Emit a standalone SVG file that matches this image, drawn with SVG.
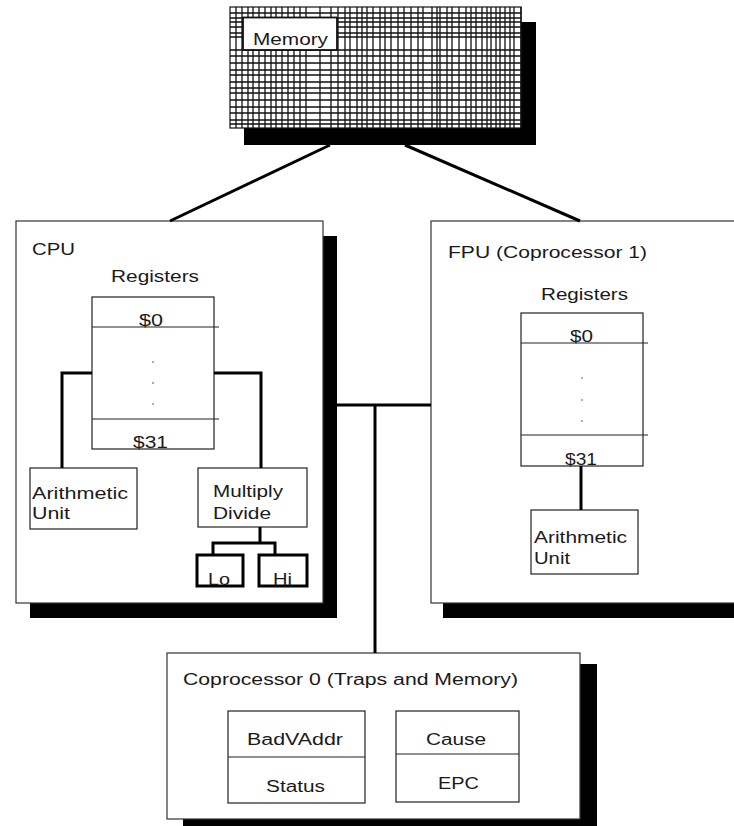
<svg xmlns="http://www.w3.org/2000/svg" width="734" height="826" viewBox="0 0 734 826">
<style>
  text { font-family: "Liberation Sans", Arial, sans-serif; font-size: 16px; fill: #1a1a1a; }
  .box { fill: #fff; stroke: #333; stroke-width: 1.2; }
  .shadow { fill: #000; }
  .thin { stroke: #222; stroke-width: 1.2; fill: none; }
  .conn { stroke: #000; stroke-width: 3; fill: none; }
  .thick { fill: #fff; stroke: #000; stroke-width: 3; }
  .grid { stroke: #111; stroke-width: 1.3; fill: none; }
  .dot { fill: #444; }
</style>
<rect width="734" height="826" fill="#fff"/>

<g id="memory">
  <rect class="shadow" x="244" y="22" width="292" height="123"/>
  <rect x="230" y="7" width="291" height="121" fill="#fff" stroke="#111" stroke-width="1.2"/>
  <path class="grid" d="M236,7V128 M242,7V128 M248,7V128 M253,7V128 M259,7V128 M265,7V128 M271,7V128 M276,7V128 M282,7V128 M288,7V128 M294,7V128 M300,7V128 M306,7V128 M320,7V128 M331,7V128 M338,7V128 M345,7V128 M350,7V128 M357,7V128 M362,7V128 M367,7V128 M373,7V128 M380,7V128 M385,7V128 M391,7V128 M398,7V128 M404,7V128 M411,7V128 M418,7V128 M423,7V128 M432,7V128 M437,7V128 M440,7V128 M447,7V128 M452,7V128 M459,7V128 M466,7V128 M471,7V128 M476,7V128 M482,7V128 M487,7V128 M491,7V128 M496,7V128 M500,7V128 M505,7V128 M510,7V128 M514,7V128 M521,7V128
  M230,13H521 M230,18H521 M230,22H521 M230,27H521 M230,33H521 M230,37H521 M230,50H521 M230,56H521 M230,63H521 M230,70H521 M230,75H521 M230,82H521 M230,88H521 M230,93H521 M230,100H521 M230,107H521 M230,113H521 M230,120H521 M230,124H521"/>
  <rect x="243" y="17.5" width="94" height="32.5" fill="#fff" stroke="#111" stroke-width="1.8"/>
  <text x="253" y="45" textLength="75" lengthAdjust="spacingAndGlyphs">Memory</text>
</g>

<g id="cpu">
  <rect class="shadow" x="30" y="236" width="307" height="382"/>
  <rect class="box" x="16" y="221" width="307" height="382"/>
  <text x="32" y="255" textLength="43" lengthAdjust="spacingAndGlyphs">CPU</text>
  <g id="cpu-registers">
    <text x="111" y="282" textLength="88" lengthAdjust="spacingAndGlyphs">Registers</text>
    <rect x="92" y="297" width="122" height="152" fill="none" stroke="#222" stroke-width="1.2"/>
    <path class="thin" d="M92,327 H219 M92,419 H219"/>
    <text x="139" y="326" textLength="24" lengthAdjust="spacingAndGlyphs">$0</text>
    <circle class="dot" cx="153" cy="362" r="0.8"/>
    <circle class="dot" cx="153" cy="383" r="0.8"/>
    <circle class="dot" cx="153" cy="404" r="0.8"/>
    <text x="133" y="448" textLength="35" lengthAdjust="spacingAndGlyphs">$31</text>
  </g>
  <g id="cpu-alu">
    <rect x="30" y="468" width="107" height="61" fill="#fff" stroke="#222" stroke-width="1.2"/>
    <text x="32" y="499" textLength="96" lengthAdjust="spacingAndGlyphs">Arithmetic</text>
    <text x="32" y="519" textLength="38" lengthAdjust="spacingAndGlyphs">Unit</text>
  </g>
  <g id="cpu-muldiv">
    <rect x="198" y="468" width="109" height="59" fill="#fff" stroke="#222" stroke-width="1.2"/>
    <text x="213" y="497" textLength="70" lengthAdjust="spacingAndGlyphs">Multiply</text>
    <text x="213" y="519" textLength="58" lengthAdjust="spacingAndGlyphs">Divide</text>
  </g>
  <g id="cpu-lo">
    <rect class="thick" x="197" y="555" width="46" height="31"/>
    <text x="208" y="585" textLength="22" lengthAdjust="spacingAndGlyphs">Lo</text>
  </g>
  <g id="cpu-hi">
    <rect class="thick" x="259" y="555" width="48" height="31"/>
    <text x="273" y="585" textLength="19" lengthAdjust="spacingAndGlyphs">Hi</text>
  </g>
</g>

<g id="fpu">
  <rect class="shadow" x="443" y="236" width="310" height="382"/>
  <rect class="box" x="431" y="221" width="310" height="382"/>
  <text x="448" y="258" textLength="199" lengthAdjust="spacingAndGlyphs">FPU (Coprocessor 1)</text>
  <g id="fpu-registers">
    <text x="541" y="300" textLength="87" lengthAdjust="spacingAndGlyphs">Registers</text>
    <rect x="521" y="313" width="122" height="153" fill="none" stroke="#222" stroke-width="1.2"/>
    <path class="thin" d="M521,343 H648 M521,435 H648"/>
    <text x="570" y="342" textLength="23" lengthAdjust="spacingAndGlyphs">$0</text>
    <circle class="dot" cx="582" cy="378" r="0.8"/>
    <circle class="dot" cx="582" cy="400" r="0.8"/>
    <circle class="dot" cx="582" cy="421" r="0.8"/>
    <text x="565" y="465" textLength="32" lengthAdjust="spacingAndGlyphs">$31</text>
  </g>
  <g id="fpu-alu">
    <rect x="531" y="510" width="107" height="64" fill="#fff" stroke="#222" stroke-width="1.2"/>
    <text x="534" y="543" textLength="93" lengthAdjust="spacingAndGlyphs">Arithmetic</text>
    <text x="534" y="564" textLength="36" lengthAdjust="spacingAndGlyphs">Unit</text>
  </g>
</g>

<g id="cop0">
  <rect class="shadow" x="183" y="664" width="414" height="170"/>
  <rect class="box" x="167" y="653" width="413" height="166"/>
  <text x="183" y="685" textLength="335" lengthAdjust="spacingAndGlyphs">Coprocessor 0 (Traps and Memory)</text>
  <g id="cop0-badvaddr-status">
    <rect x="228" y="711" width="137" height="92" fill="#fff" stroke="#222" stroke-width="1.2"/>
    <path class="thin" d="M228,757 H365"/>
    <text x="247" y="745" textLength="96" lengthAdjust="spacingAndGlyphs">BadVAddr</text>
    <text x="266" y="792" textLength="59" lengthAdjust="spacingAndGlyphs">Status</text>
  </g>
  <g id="cop0-cause-epc">
    <rect x="396" y="711" width="123" height="91" fill="#fff" stroke="#222" stroke-width="1.2"/>
    <path class="thin" d="M396,754 H519"/>
    <text x="426" y="745" textLength="60" lengthAdjust="spacingAndGlyphs">Cause</text>
    <text x="438" y="789" textLength="41" lengthAdjust="spacingAndGlyphs">EPC</text>
  </g>
</g>

<g id="connectors">
  <path class="conn" d="M330,145 L170,221"/>
  <path class="conn" d="M405,145 L580,221"/>
  <path class="conn" d="M337,405 H431"/>
  <path class="conn" d="M375,405 V653"/>
  <path class="conn" d="M92,373 H62 V468"/>
  <path class="conn" d="M214,373 H261 V468"/>
  <path class="conn" d="M260,527 V543 M211.5,543 H276.5 M213,543 V554 M275,543 V554"/>
  <path class="conn" d="M581,466 V510"/>
</g>
</svg>
